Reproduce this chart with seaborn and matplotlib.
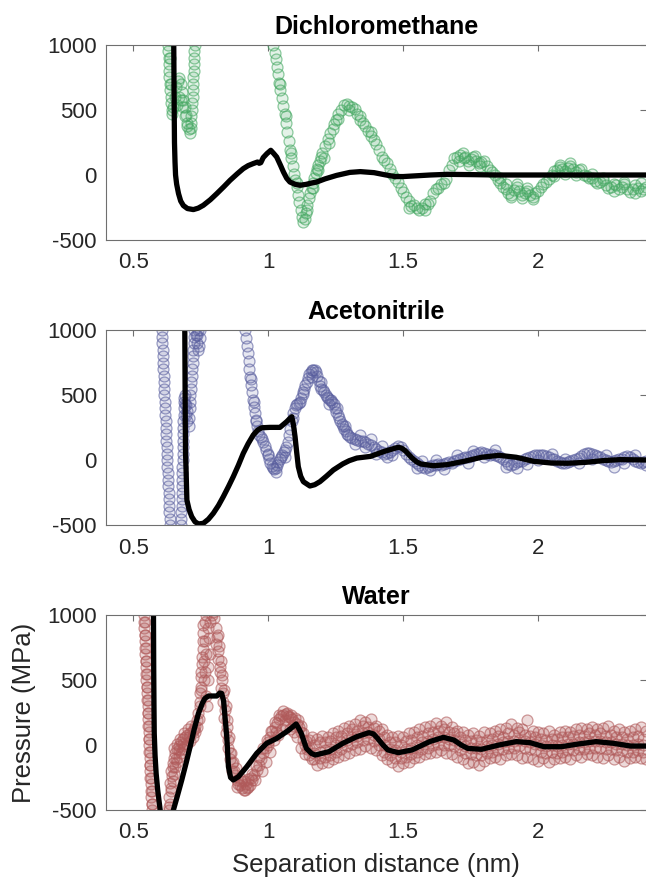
import numpy as np
import pandas as pd
import seaborn as sns
import matplotlib
matplotlib.use("Agg")
import matplotlib.pyplot as plt
from matplotlib.colors import to_rgba

# ---------------- data (separation distance nm, pressure MPa) ----------------
titles = ["Dichloromethane", "Acetonitrile", "Water"]
scatter_colors = ["#45a862", "#5a5f9f", "#b05a5a"]
x_ticks = [0.5, 1.0, 1.5, 2.0]
x_tick_labels = ["0.5", "1", "1.5", "2"]
y_ticks = [-500, 0, 500, 1000]
y_tick_labels = ["-500", "0", "500", "1000"]

# Dichloromethane measured data
dcm_col = [(0.627, 1050), (0.628, 1000), (0.629, 950), (0.630, 900), (0.631, 850), (0.632, 800),
           (0.633, 750), (0.634, 700), (0.636, 650), (0.638, 600), (0.640, 550), (0.642, 500),
           (0.643, 470), (0.713, 400), (0.715, 450), (0.7165, 500), (0.718, 550), (0.719, 600),
           (0.720, 650), (0.721, 700), (0.722, 750), (0.723, 800), (0.724, 850), (0.725, 900),
           (0.726, 950), (0.727, 1000), (0.728, 1050)]
dcm_early = [(0.648, 520), (0.653, 600), (0.658, 680), (0.664, 720), (0.670, 745), (0.675, 700),
             (0.680, 640), (0.685, 580), (0.690, 520), (0.695, 460), (0.700, 400), (0.705, 350),
             (0.709, 320), (0.712, 360), (0.660, 540), (0.668, 600), (0.676, 580), (0.684, 520),
             (0.692, 450), (0.700, 380), (0.631, 1040), (0.635, 900), (0.639, 700)]
dcm_main = [(1.015, 1060), (1.019, 1000), (1.023, 940), (1.027, 890), (1.031, 830), (1.035, 780),
            (1.040, 710), (1.045, 650), (1.050, 590), (1.055, 530), (1.060, 470), (1.065, 400),
            (1.070, 330), (1.075, 260), (1.080, 190), (1.085, 130), (1.090, 70), (1.095, 10),
            (1.100, -40), (1.105, -95), (1.110, -150), (1.115, -210), (1.120, -270), (1.125, -320),
            (1.130, -360), (1.135, -340), (1.140, -290), (1.145, -230), (1.150, -180), (1.155, -140),
            (1.160, -100), (1.165, -60), (1.170, -20), (1.175, 15), (1.180, 50), (1.185, 80),
            (1.190, 110), (1.195, 140), (1.200, 170),
            (1.21, 220), (1.22, 280), (1.23, 320), (1.24, 350), (1.25, 420), (1.26, 470), (1.27, 500),
            (1.28, 540), (1.29, 545), (1.30, 530), (1.31, 520), (1.32, 510), (1.33, 470), (1.34, 420),
            (1.35, 400), (1.36, 380), (1.37, 340), (1.38, 300), (1.39, 270), (1.40, 240), (1.41, 190),
            (1.42, 140), (1.43, 115), (1.44, 90), (1.45, 50), (1.46, 10), (1.47, -20), (1.48, -50),
            (1.49, -100), (1.50, -130), (1.51, -170), (1.52, -200), (1.53, -240), (1.54, -230),
            (1.55, -255), (1.56, -270), (1.57, -250), (1.58, -220), (1.59, -225), (1.60, -200),
            (1.61, -140), (1.62, -110), (1.63, -100), (1.64, -70), (1.65, -60), (1.66, -30),
            (1.67, 40), (1.68, 80), (1.69, 130), (1.70, 140), (1.71, 155), (1.72, 170), (1.73, 135),
            (1.74, 110), (1.75, 120), (1.76, 140), (1.77, 110), (1.78, 90), (1.79, 100), (1.80, 110),
            (1.81, 70), (1.82, 40), (1.83, 20), (1.84, 0), (1.85, -40), (1.86, -60), (1.87, -95),
            (1.88, -110), (1.89, -135), (1.90, -150), (1.91, -115), (1.92, -90), (1.93, -120),
            (1.94, -150), (1.95, -140), (1.96, -120), (1.97, -155), (1.98, -170), (1.99, -140),
            (2.00, -120), (2.01, -90), (2.02, -70), (2.03, -55), (2.04, -30), (2.05, 0), (2.06, 30),
            (2.07, 40), (2.08, 60), (2.09, 50), (2.10, 30), (2.11, 55), (2.12, 70), (2.13, 45),
            (2.14, 20), (2.15, 35), (2.16, 50), (2.17, 0), (2.18, -10), (2.19, -25), (2.20, -20),
            (2.21, -45), (2.22, -60), (2.23, -55), (2.24, -40), (2.25, -75), (2.26, -100),
            (2.27, -90), (2.28, -70), (2.29, -80), (2.30, -110), (2.31, -90), (2.32, -70),
            (2.33, -110), (2.34, -130), (2.35, -110), (2.36, -80), (2.37, -100), (2.38, -120),
            (2.39, -110), (2.40, -90)]
dcm_extra = [(1.705, 110), (1.725, 130), (1.745, 80), (1.765, 150), (1.785, 70), (1.86, -20),
             (1.88, -70), (1.90, -170), (1.92, -70), (1.94, -175), (1.96, -100), (1.98, -185),
             (2.06, -10), (2.08, 80), (2.10, 10), (2.12, 90), (2.14, 0), (2.20, 5), (2.24, -20),
             (2.28, -120), (2.32, -50), (2.36, -140), (2.38, -60), (1.52, -250), (1.58, -270),
             (1.26, 430), (1.30, 500), (1.34, 450), (1.38, 330), (1.045, 700), (1.065, 450),
             (1.085, 170), (1.105, -60), (1.145, -270), (1.165, -100), (1.185, 40), (1.205, 130),
             (1.225, 250), (1.245, 390)]

# Dichloromethane model fit
dcm_fit = [(0.649, 1100), (0.650, 800), (0.651, 500), (0.652, 250), (0.654, 100), (0.656, 0),
           (0.660, -70), (0.667, -143), (0.675, -200), (0.685, -235), (0.700, -258), (0.722, -266),
           (0.740, -255), (0.759, -233), (0.785, -190), (0.809, -143), (0.835, -90), (0.858, -41),
           (0.885, 10), (0.907, 49), (0.925, 72), (0.944, 88), (0.960, 100), (0.966, 90),
           (0.972, 95), (0.981, 134), (0.995, 165), (1.009, 190), (1.020, 165), (1.031, 138),
           (1.045, 75), (1.056, 23), (1.068, -25), (1.080, -54), (1.100, -72), (1.117, -79),
           (1.140, -72), (1.160, -62), (1.179, -54), (1.210, -30), (1.253, -3), (1.302, 20),
           (1.341, 26), (1.392, 18), (1.431, 2), (1.469, -12), (1.500, -12), (1.533, -8),
           (1.600, 0), (1.662, 5), (1.750, 3), (1.850, 0), (2.000, 0), (2.200, 0), (2.400, 0)]

# Acetonitrile measured data
acn_col = [(0.604, 1050), (0.605, 1000), (0.606, 950), (0.607, 900), (0.608, 850), (0.609, 800),
           (0.610, 750), (0.611, 700), (0.612, 650), (0.613, 600), (0.614, 550), (0.615, 500),
           (0.616, 450), (0.617, 400), (0.618, 350), (0.619, 300), (0.620, 250), (0.621, 200),
           (0.622, 150), (0.623, 100), (0.624, 50), (0.625, 0), (0.626, -50), (0.627, -100),
           (0.628, -150), (0.629, -200), (0.630, -250), (0.631, -300), (0.632, -350), (0.633, -400),
           (0.634, -450), (0.636, -500), (0.638, -550),
           (0.675, -550), (0.676, -500), (0.677, -450), (0.678, -400), (0.6785, -350), (0.679, -300),
           (0.6795, -250), (0.680, -200), (0.6805, -150), (0.681, -100), (0.6815, -50), (0.682, 0),
           (0.6825, 50), (0.683, 100), (0.6835, 150), (0.684, 200), (0.6845, 250), (0.685, 300),
           (0.6855, 350), (0.686, 400), (0.687, 450), (0.688, 480),
           (0.709, 450), (0.711, 500), (0.713, 550), (0.714, 600), (0.716, 650), (0.717, 700),
           (0.719, 750), (0.720, 800), (0.722, 850), (0.723, 900), (0.725, 950), (0.726, 1000),
           (0.728, 1050)]
acn_early = [(0.692, 430), (0.696, 350), (0.700, 300), (0.704, 320), (0.708, 400),
             (0.730, 960), (0.734, 900), (0.738, 850), (0.742, 880), (0.745, 940), (0.748, 1000),
             (0.690, 500), (0.695, 420), (0.700, 380), (0.705, 260), (0.736, 960), (0.740, 1000)]
acn_main = [(0.912, 1060), (0.915, 1000), (0.918, 940), (0.921, 880), (0.924, 820), (0.927, 760),
            (0.930, 700), (0.933, 640), (0.936, 580), (0.939, 520), (0.942, 460), (0.945, 410),
            (0.949, 360), (0.953, 310), (0.957, 260), (0.962, 220), (0.967, 190), (0.972, 175),
            (0.977, 160), (0.982, 140), (0.987, 110), (0.992, 75), (0.997, 40), (1.002, 10),
            (1.007, -20), (1.012, -45), (1.017, -60), (1.022, -68), (1.027, -60), (1.032, -40),
            (1.037, -15), (1.042, 10), (1.047, 25), (1.052, 40), (1.057, 60), (1.062, 80),
            (1.067, 100), (1.072, 140), (1.077, 190), (1.082, 240), (1.087, 300), (1.092, 360),
            (1.097, 400), (1.102, 420), (1.107, 430), (1.112, 440), (1.117, 450), (1.122, 480),
            (1.127, 520), (1.132, 550), (1.137, 580), (1.142, 600), (1.147, 630), (1.152, 660),
            (1.157, 680), (1.162, 690), (1.167, 695), (1.172, 692), (1.177, 680), (1.182, 650),
            (1.187, 610), (1.192, 570), (1.197, 545), (1.202, 535), (1.207, 520), (1.212, 500),
            (1.217, 485), (1.222, 475), (1.227, 465), (1.232, 460), (1.237, 450), (1.242, 430),
            (1.247, 400), (1.252, 370), (1.257, 345), (1.262, 320), (1.267, 300), (1.272, 280),
            (1.277, 260), (1.282, 240), (1.287, 220), (1.292, 200), (1.297, 190), (1.302, 180),
            (1.31, 170), (1.32, 160), (1.33, 155), (1.34, 150), (1.35, 145), (1.36, 135), (1.37, 125),
            (1.38, 115), (1.39, 100), (1.40, 85), (1.41, 70), (1.42, 60), (1.43, 50), (1.44, 55),
            (1.45, 65), (1.46, 80), (1.47, 95), (1.48, 105), (1.49, 100), (1.50, 80), (1.51, 50),
            (1.52, 25), (1.53, 5), (1.54, -10), (1.55, -20), (1.56, -35), (1.57, -50), (1.58, -60),
            (1.59, -55), (1.60, -45), (1.61, -40), (1.62, -35), (1.63, -30), (1.64, -35), (1.65, -30),
            (1.66, -20), (1.67, -15), (1.68, -20), (1.69, -10), (1.70, 0), (1.71, 10), (1.72, 15),
            (1.73, 20), (1.74, 25), (1.75, 30), (1.76, 35), (1.77, 45), (1.78, 55), (1.79, 65),
            (1.80, 55), (1.81, 45), (1.82, 40), (1.83, 45), (1.84, 35), (1.85, 30), (1.86, 25),
            (1.87, 10), (1.88, -10), (1.89, -30), (1.90, -40), (1.91, -30), (1.92, -15), (1.93, -10),
            (1.94, -5), (1.95, 5), (1.96, 15), (1.97, 25), (1.98, 30), (1.99, 35), (2.00, 40),
            (2.01, 40), (2.02, 35), (2.03, 30), (2.04, 20), (2.05, 10), (2.06, 5), (2.07, -5),
            (2.08, -15), (2.09, -25), (2.10, -25), (2.11, -15), (2.12, -5), (2.13, 0), (2.14, 5),
            (2.15, 15), (2.16, 30), (2.17, 45), (2.18, 55), (2.19, 55), (2.20, 50), (2.21, 40),
            (2.22, 30), (2.23, 20), (2.24, 10), (2.25, 0), (2.26, -10), (2.27, -15), (2.28, -10),
            (2.29, 0), (2.30, 5), (2.31, 10), (2.32, 20), (2.33, 30), (2.34, 25), (2.35, 10),
            (2.36, -5), (2.37, -15), (2.38, -20), (2.39, -15), (2.40, -10)]
acn_extra = [(1.32, 120), (1.34, 190), (1.36, 100), (1.38, 160), (1.40, 50), (1.42, 110), (1.44, 20),
             (1.46, 40), (1.55, -60), (1.57, -10), (1.60, -80), (1.62, 0), (1.65, -70), (1.70, 40),
             (1.74, -20), (1.76, 70), (1.80, 20), (1.84, 80), (1.88, -50), (1.92, -60), (1.96, -30),
             (2.00, 0), (2.05, 50), (2.10, 10), (2.15, -20), (2.20, 10), (2.25, 40), (2.28, -50),
             (2.32, -20), (2.36, 40), (2.40, -40), (0.935, 620), (0.945, 450), (0.955, 300),
             (1.000, 50), (1.030, -90), (1.060, 20), (1.090, 320), (1.130, 510), (1.160, 640),
             (1.195, 600), (1.225, 430), (1.255, 400), (1.285, 260)]

# Acetonitrile model fit
acn_fit = [(0.690, 1100), (0.691, 700), (0.692, 300), (0.693, 50), (0.695, -77), (0.698, -308),
           (0.706, -380), (0.716, -436), (0.728, -475), (0.741, -492), (0.759, -487), (0.778, -455),
           (0.796, -410), (0.815, -350), (0.833, -282), (0.852, -205), (0.870, -128), (0.889, -40),
           (0.907, 51), (0.925, 125), (0.944, 192), (0.960, 230), (0.975, 248), (1.006, 251),
           (1.043, 251), (1.068, 295), (1.080, 320), (1.087, 333), (1.093, 270), (1.099, 179),
           (1.105, 60), (1.111, -51), (1.120, -125), (1.130, -167), (1.154, -200), (1.172, -190),
           (1.191, -167), (1.215, -125), (1.241, -77), (1.276, -30), (1.300, -5), (1.328, 15),
           (1.379, 28), (1.431, 67), (1.460, 85), (1.482, 98), (1.495, 90), (1.508, 70),
           (1.533, 15), (1.550, -15), (1.566, -31), (1.611, -44), (1.662, -36), (1.726, -10),
           (1.790, 21), (1.855, 36), (1.919, 21), (1.983, -10), (2.048, -23), (2.110, -25),
           (2.176, -18), (2.240, -5), (2.305, 3), (2.400, 0)]

# Water measured data
wat_col = [(0.537, 1050), (0.538, 1000), (0.539, 950), (0.540, 900), (0.541, 850), (0.542, 800),
           (0.543, 750), (0.544, 700), (0.545, 650), (0.546, 600), (0.547, 550), (0.548, 500),
           (0.549, 450), (0.550, 400), (0.551, 350), (0.552, 300), (0.553, 250), (0.554, 200),
           (0.555, 150), (0.556, 100), (0.557, 50), (0.558, 0), (0.559, -50), (0.560, -100),
           (0.561, -150), (0.562, -200), (0.563, -250), (0.564, -300), (0.565, -350), (0.566, -400),
           (0.567, -450), (0.568, -500), (0.570, -550),
           (0.541, 950), (0.543, 850), (0.545, 750), (0.547, 650), (0.549, 550), (0.551, 450),
           (0.553, 350), (0.555, 250), (0.557, 150), (0.559, 50), (0.561, -50), (0.563, -150),
           (0.565, -250), (0.567, -350), (0.569, -450)]
wat_rise = [(0.628, -560), (0.630, -500), (0.633, -400), (0.636, -290), (0.640, -200), (0.645, -140),
            (0.650, -100), (0.655, -60), (0.660, -30), (0.667, -10), (0.675, 20), (0.683, 45),
            (0.691, 64), (0.700, 80), (0.710, 90), (0.720, 110), (0.728, 150), (0.735, 190),
            (0.740, 250), (0.745, 330), (0.749, 450), (0.752, 560), (0.755, 680), (0.757, 800),
            (0.759, 920), (0.761, 1040),
            (0.635, -450), (0.640, -350), (0.645, -280), (0.650, -220), (0.655, -170), (0.660, -130),
            (0.667, -90), (0.675, -60), (0.683, -30), (0.691, -10), (0.700, 10), (0.710, 30),
            (0.720, 60), (0.728, 100), (0.735, 140), (0.742, 200), (0.748, 300), (0.752, 420),
            (0.650, -20), (0.662, 10), (0.674, 50), (0.688, 90), (0.702, 120), (0.715, 150),
            (0.632, -480), (0.638, -330), (0.643, -240), (0.648, -170), (0.657, -110),
            (0.670, -40), (0.685, 10), (0.705, 60), (0.725, 120), (0.747, 400), (0.750, 520),
            (0.753, 620), (0.756, 740), (0.758, 860)]
wat_peak = [(0.765, 950), (0.770, 1000), (0.775, 900), (0.780, 820), (0.785, 950), (0.790, 1000),
            (0.795, 1020), (0.800, 980), (0.770, 700), (0.775, 600), (0.765, 800), (0.762, 500),
            (0.768, 380), (0.772, 300), (0.778, 500), (0.783, 700), (0.763, 650), (0.767, 560),
            (0.805, 900), (0.809, 830), (0.815, 720), (0.821, 600), (0.827, 500), (0.833, 400),
            (0.840, 270), (0.846, 140), (0.852, 40), (0.858, -60), (0.865, -140), (0.871, -200),
            (0.877, -230), (0.883, -270), (0.889, -300), (0.895, -310), (0.902, -330), (0.908, -345),
            (0.914, -345), (0.920, -330), (0.926, -320), (0.932, -305), (0.940, -270), (0.948, -230),
            (0.957, -190), (0.965, -150), (0.973, -110), (0.981, -65), (0.990, -20), (0.998, 20),
            (1.006, 65), (1.015, 110), (1.023, 140), (1.031, 170), (1.040, 200), (1.048, 220),
            (1.056, 230), (1.064, 235), (1.072, 225), (1.080, 215), (1.088, 200), (1.096, 180),
            (1.105, 165), (1.113, 140), (1.121, 100), (1.129, 40), (1.137, 0), (1.145, -30),
            (0.812, 850), (0.818, 760), (0.824, 650), (0.830, 540), (0.836, 420), (0.842, 300),
            (0.848, 190), (0.855, 60), (0.862, -60), (0.870, -130), (0.880, -180), (0.895, -250),
            (0.910, -280), (0.925, -260), (0.940, -220), (0.955, -160), (0.965, -90), (0.980, -20),
            (0.995, 40), (1.010, 110), (1.025, 180), (1.040, 230), (1.055, 260), (1.070, 250),
            (1.085, 230), (1.100, 210), (1.110, 190), (1.120, 150), (1.130, 90), (1.140, 30),
            (0.975, -200), (0.990, -130), (1.005, -50), (1.020, 40), (1.035, 80), (1.050, 120),
            (1.065, 140), (1.080, 120), (1.095, 100), (1.108, 60), (1.120, -20), (1.135, -70),
            (0.807, 780), (0.813, 660), (0.819, 560), (0.825, 440), (0.831, 330), (0.837, 210),
            (0.843, 90), (0.849, -20), (0.856, -110), (0.866, -200), (0.885, -320), (0.900, -280),
            (0.918, -300), (0.935, -250), (0.950, -270), (1.000, 0), (1.030, 100), (1.060, 190),
            (1.090, 150)]
wat_tail_x = [1.15, 1.17, 1.19, 1.21, 1.23, 1.25, 1.27, 1.29, 1.31, 1.33, 1.35, 1.37, 1.39, 1.41,
              1.43, 1.45, 1.47, 1.49, 1.51, 1.53, 1.55, 1.57, 1.59, 1.61, 1.63, 1.65, 1.67, 1.69,
              1.71, 1.73, 1.75, 1.77, 1.79, 1.81, 1.83, 1.85, 1.87, 1.89, 1.91, 1.93, 1.95, 1.97,
              1.99, 2.01, 2.03, 2.05, 2.07, 2.09, 2.11, 2.13, 2.15, 2.17, 2.19, 2.21, 2.23, 2.25,
              2.27, 2.29, 2.31, 2.33, 2.35, 2.37, 2.39]
wat_tail_mid = [-20, -60, -50, -40, -30, 0, 20, 40, 60, 70, 90, 100, 80, 50, 0, -30, -40, -50, -30,
                -20, 0, 20, 30, 50, 60, 60, 50, 40, 10, -10, -20, -20, -30, -10, 0, 10, 20, 30, 30,
                40, 30, 20, 10, 0, -10, 0, -10, 0, 10, 10, 20, 20, 30, 30, 30, 20, 20, 10, 10, 0, 0,
                10, 0]
wat_tail_hi2 = [40, 0, 20, 20, 30, 60, 70, 90, 120, 110, 150, 140, 130, 110, 60, 20, 20, 0, 30, 40,
                60, 70, 90, 100, 110, 120, 100, 90, 60, 40, 30, 40, 20, 40, 50, 70, 60, 90, 80, 100,
                80, 70, 60, 50, 40, 50, 50, 60, 60, 70, 80, 70, 90, 80, 90, 70, 80, 60, 60, 50, 60,
                70, 50]
wat_tail_lo2 = [-80, -110, -100, -90, -80, -50, -30, -10, 10, 20, 40, 50, 30, 0, -50, -80, -100, -100,
                -90, -70, -50, -30, -20, 0, 10, 0, 0, -10, -40, -60, -70, -80, -80, -60, -50, -40,
                -30, -20, -20, -10, -20, -30, -40, -50, -60, -50, -60, -50, -40, -40, -30, -30, -20,
                -20, -20, -30, -30, -40, -40, -50, -50, -40, -50]
wat_tail_hi = [(1.16, 60), (1.18, 50), (1.20, 70), (1.22, 60), (1.24, 90), (1.26, 110), (1.28, 130),
               (1.30, 150), (1.32, 160), (1.34, 190), (1.36, 180), (1.38, 200), (1.40, 150), (1.42, 120),
               (1.44, 80), (1.46, 60), (1.48, 70), (1.50, 60), (1.52, 90), (1.54, 100), (1.56, 120),
               (1.58, 140), (1.60, 150), (1.62, 170), (1.64, 150), (1.66, 180), (1.68, 140), (1.70, 110),
               (1.72, 100), (1.74, 80), (1.76, 90), (1.78, 70), (1.80, 100), (1.82, 90), (1.84, 110),
               (1.86, 120), (1.88, 130), (1.90, 160), (1.92, 130), (1.94, 120), (1.96, 190), (1.98, 110),
               (2.00, 100), (2.02, 90), (2.04, 110), (2.06, 80), (2.08, 100), (2.10, 110), (2.12, 100),
               (2.14, 120), (2.16, 130), (2.18, 120), (2.20, 140), (2.22, 120), (2.24, 130), (2.26, 150),
               (2.28, 110), (2.30, 120), (2.32, 100), (2.34, 110), (2.36, 120), (2.38, 140), (2.40, 110)]
wat_tail_lo = [(1.16, -110), (1.18, -150), (1.20, -140), (1.22, -130), (1.24, -110), (1.26, -90),
               (1.28, -80), (1.30, -60), (1.32, -40), (1.34, -30), (1.36, -10), (1.38, -20), (1.40, -40),
               (1.42, -80), (1.44, -110), (1.46, -130), (1.48, -160), (1.50, -140), (1.52, -130),
               (1.54, -100), (1.56, -90), (1.58, -70), (1.60, -60), (1.62, -50), (1.64, -40), (1.66, -60),
               (1.68, -70), (1.70, -90), (1.72, -110), (1.74, -140), (1.76, -130), (1.78, -150),
               (1.80, -120), (1.82, -100), (1.84, -90), (1.86, -110), (1.88, -80), (1.90, -70),
               (1.92, -80), (1.94, -100), (1.96, -90), (1.98, -110), (2.00, -120), (2.02, -100),
               (2.04, -130), (2.06, -110), (2.08, -100), (2.10, -90), (2.12, -110), (2.14, -80),
               (2.16, -90), (2.18, -70), (2.20, -80), (2.22, -90), (2.24, -100), (2.26, -80), (2.28, -110),
               (2.30, -90), (2.32, -120), (2.34, -100), (2.36, -90), (2.38, -100), (2.40, -110)]

# Water model fit
wat_fit = [(0.574, 1100), (0.575, 600), (0.576, 300), (0.577, 90), (0.580, -80), (0.584, -218),
           (0.590, -350), (0.599, -500), (0.602, -560), (0.645, -560), (0.648, -500), (0.663, -390),
           (0.679, -269), (0.695, -140), (0.710, -13), (0.725, 120), (0.741, 244), (0.755, 320),
           (0.765, 359), (0.778, 377), (0.809, 377), (0.820, 400), (0.827, 397), (0.834, 340),
           (0.840, 200), (0.846, 60), (0.852, -167), (0.860, -250), (0.870, -269), (0.889, -244),
           (0.920, -167), (0.957, -64), (0.994, 13), (1.031, 51), (1.068, 103), (1.085, 130),
           (1.103, 162), (1.112, 130), (1.122, 90), (1.141, -26), (1.160, -65), (1.174, -77),
           (1.225, -51), (1.276, 13), (1.328, 64), (1.373, 95), (1.390, 85), (1.405, 51),
           (1.425, 0), (1.443, -38), (1.482, -59), (1.533, -38), (1.598, 26), (1.649, 59),
           (1.688, 38), (1.715, 0), (1.739, -26), (1.790, -33), (1.855, 0), (1.919, 26),
           (1.970, 18), (2.022, -13), (2.086, -13), (2.150, 8), (2.215, 26), (2.279, 13),
           (2.343, -8), (2.400, -8)]

wat_tail = (list(zip(wat_tail_x, wat_tail_mid)) + list(zip(wat_tail_x, wat_tail_hi2))
            + list(zip(wat_tail_x, wat_tail_lo2)) + wat_tail_hi + wat_tail_lo)

panels = [
    (dcm_col + dcm_early + dcm_main + dcm_extra, dcm_fit),
    (acn_col + acn_early + acn_main + acn_extra, acn_fit),
    (wat_col + wat_rise + wat_peak + wat_tail, wat_fit),
]
face_alpha = [0.14, 0.14, 0.22]
edge_alpha = [0.6, 0.6, 0.6]

# ---------------- figure ----------------
sns.set_theme(style="white")
plt.rcParams["font.family"] = ["Liberation Sans", "DejaVu Sans"]
TXT = "#262626"
SPINE = "#6f6f6f"

fig = plt.figure(figsize=(6.46, 8.83), dpi=100)
left = 106.5 / 646
width = 1.0 - left
bottoms_px = [240, 525, 810]
height = 195 / 883

for i, ((pts, fit), title, col) in enumerate(zip(panels, titles, scatter_colors)):
    ax = fig.add_axes([left, (883 - bottoms_px[i]) / 883, width, height])
    df = pd.DataFrame(pts, columns=["x", "p"])
    fdf = pd.DataFrame(fit, columns=["x", "p"])
    sns.scatterplot(data=df, x="x", y="p", ax=ax, s=62, marker="o", color=col, legend=False)
    coll = ax.collections[-1]
    coll.set_alpha(None)
    coll.set_facecolor(to_rgba(col, face_alpha[i]))
    coll.set_edgecolor(to_rgba(col, edge_alpha[i]))
    coll.set_linewidth(0.9)
    sns.lineplot(data=fdf, x="x", y="p", ax=ax, color="black", linewidth=3.8,
                 sort=False, estimator=None, legend=False)
    ax.set_xlim(0.4, 2.4)
    ax.set_ylim(-500, 1000)
    ax.set_xticks(x_ticks)
    ax.set_xticklabels(x_tick_labels)
    ax.set_yticks(y_ticks)
    ax.set_yticklabels(y_tick_labels)
    ax.tick_params(axis="both", direction="in", length=4, width=0.8, color=SPINE,
                   labelcolor=TXT, labelsize=16, top=True, right=True)
    ax.tick_params(axis="x", pad=9)
    ax.tick_params(axis="y", pad=7)
    for side, sp in ax.spines.items():
        sp.set_color(SPINE)
        sp.set_linewidth(0.8)
    ax.spines["right"].set_visible(False)
    ax.set_title(title, fontsize=18, fontweight="bold", color="black", pad=8)
    ax.set_xlabel("")
    ax.set_ylabel("")
    if i == 2:
        ax.set_xlabel("Separation distance (nm)", fontsize=18.5, color=TXT, labelpad=7)
        ax.set_ylabel("Pressure (MPa)", fontsize=18.5, color=TXT, labelpad=8)

fig.savefig("out.png", dpi=100)
